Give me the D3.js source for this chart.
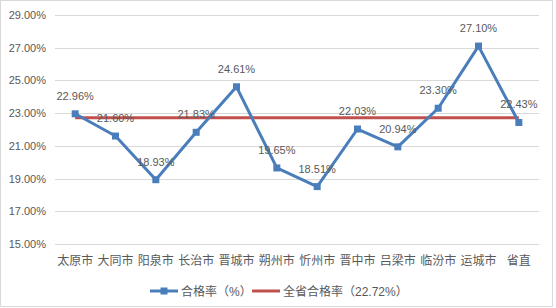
<!DOCTYPE html>
<html>
<head>
<meta charset="utf-8">
<script src="https://cdn.jsdelivr.net/npm/d3@7"></script>
<style>
  body { margin: 0; background: #fff; }
  text { font-family: "Liberation Sans", "Noto Sans CJK SC", sans-serif; fill: #595959; }
</style>
</head>
<body>
<svg id="chart" width="556" height="308"></svg>
<script>
  const cities = ["太原市", "大同市", "阳泉市", "长治市", "晋城市", "朔州市", "忻州市", "晋中市", "吕梁市", "临汾市", "运城市", "省直"]
  const rates = [22.96, 21.60, 18.93, 21.83, 24.61, 19.65, 18.51, 22.03, 20.94, 23.30, 27.10, 22.43]
  const province_rate = 22.72
  const y_ticks = [15, 17, 19, 21, 23, 25, 27, 29]

  let margin = {top: 15, right: 17, bottom: 64, left: 55}
  let width = 556, height = 308
  let svg = d3.select("#chart")

  svg.append("rect")
    .attr("x", 0.5).attr("y", 0.5)
    .attr("width", 552).attr("height", 306)
    .attr("fill", "#fff").attr("stroke", "#d9d9d9")

  let x = d3.scaleBand()
    .domain(cities)
    .range([margin.left, width - margin.right])
  let y = d3.scaleLinear()
    .domain([15, 29])
    .range([height - margin.bottom, margin.top])
  let cx = d => x(d) + x.bandwidth() / 2

  // grid
  svg.append("g")
    .selectAll("line")
    .data(y_ticks).enter()
    .append("line")
    .attr("x1", margin.left).attr("x2", width - margin.right)
    .attr("y1", d => Math.round(y(d)) + 0.5).attr("y2", d => Math.round(y(d)) + 0.5)
    .attr("stroke", "#d9d9d9")

  let y_axis = d3.axisLeft(y)
    .tickValues(y_ticks)
    .tickFormat(d => d.toFixed(2) + "%")
    .tickSize(0).tickPadding(9)
  svg.append("g")
    .attr("transform", `translate(${margin.left}, 0)`)
    .call(y_axis)
    .call(g => g.select(".domain").remove())
    .selectAll("text").style("font-size", "11px").attr("fill", "#595959")

  let x_axis = d3.axisBottom(x).tickSize(0).tickPadding(12)
  svg.append("g")
    .attr("transform", `translate(0, ${height - margin.bottom})`)
    .call(x_axis)
    .call(g => g.select(".domain").remove())
    .selectAll("text").style("font-size", "12px").attr("fill", "#595959")

  // province line
  svg.append("line")
    .attr("x1", cx(cities[0])).attr("x2", cx(cities[cities.length - 1]))
    .attr("y1", y(province_rate)).attr("y2", y(province_rate))
    .attr("stroke", "#c0504d").attr("stroke-width", 3)

  let line = d3.line()
    .x((d, i) => cx(cities[i]))
    .y(d => y(d))
  svg.append("path")
    .datum(rates)
    .attr("d", line)
    .attr("fill", "none")
    .attr("stroke", "#4a7ebb")
    .attr("stroke-width", 3)
    .attr("stroke-linejoin", "round")

  svg.append("g")
    .selectAll("rect")
    .data(rates).enter()
    .append("rect")
    .attr("x", (d, i) => cx(cities[i]) - 3.5)
    .attr("y", d => y(d) - 3.5)
    .attr("width", 7).attr("height", 7)
    .attr("fill", "#4a7ebb")

  svg.append("g")
    .selectAll("text")
    .data(rates).enter()
    .append("text")
    .attr("x", (d, i) => cx(cities[i]))
    .attr("y", d => y(d) - 14)
    .attr("text-anchor", "middle")
    .style("font-size", "11px")
    .attr("fill", "#404040")
    .text(d => d.toFixed(2) + "%")

  // legend
  let lg = svg.append("g").attr("transform", "translate(0, 291)")
  lg.append("line").attr("x1", 150).attr("x2", 178).attr("y1", 0).attr("y2", 0)
    .attr("stroke", "#4a7ebb").attr("stroke-width", 3)
  lg.append("rect").attr("x", 160.5).attr("y", -3.5).attr("width", 7).attr("height", 7)
    .attr("fill", "#4a7ebb")
  lg.append("text").attr("x", 181).attr("y", 4.5).style("font-size", "12px").text("合格率（%）")
  lg.append("line").attr("x1", 252).attr("x2", 280).attr("y1", 0).attr("y2", 0)
    .attr("stroke", "#c0504d").attr("stroke-width", 3)
  lg.append("text").attr("x", 283).attr("y", 4.5).style("font-size", "12px").text("全省合格率（" + province_rate.toFixed(2) + "%）")
</script>
</body>
</html>
